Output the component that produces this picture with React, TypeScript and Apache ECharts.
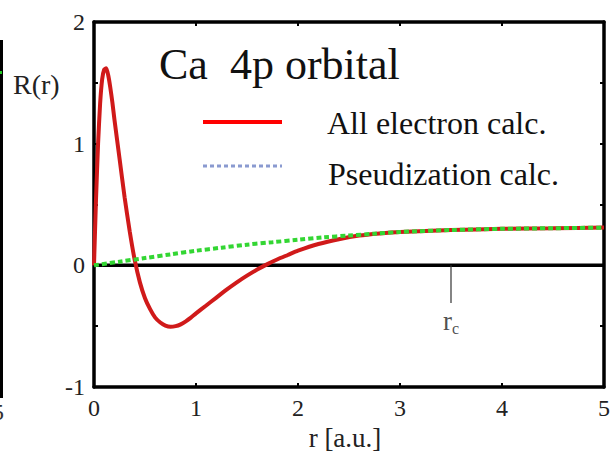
import React, { useEffect, useRef } from "react";
import * as echarts from "echarts";

const rAll = [0, 0.02, 0.04, 0.06, 0.08, 0.1, 0.12, 0.14, 0.16, 0.18, 0.2, 0.25, 0.3, 0.35, 0.4, 0.45, 0.5, 0.55, 0.6, 0.65, 0.7, 0.75, 0.8, 0.85, 0.9, 0.95, 1.0, 1.1, 1.2, 1.3, 1.4, 1.5, 1.6, 1.7, 1.8, 1.9, 2.0, 2.2, 2.4, 2.6, 2.8, 3.0, 3.5, 4.0, 4.5, 5.0];
const allElectron = [0, 0.55, 1.0, 1.33, 1.53, 1.61, 1.62, 1.56, 1.46, 1.34, 1.2, 0.88, 0.56, 0.28, 0.04, -0.14, -0.27, -0.36, -0.43, -0.47, -0.495, -0.505, -0.5, -0.485, -0.46, -0.43, -0.395, -0.33, -0.265, -0.2, -0.14, -0.085, -0.035, 0.01, 0.05, 0.085, 0.12, 0.175, 0.215, 0.245, 0.262, 0.274, 0.29, 0.3, 0.305, 0.31];
const rPs = [0, 0.25, 0.5, 0.75, 1.0, 1.25, 1.5, 1.75, 2.0, 2.25, 2.5, 2.75, 3.0, 3.5, 4.0, 4.5, 5.0];
const pseudo = [0, 0.03, 0.06, 0.09, 0.12, 0.145, 0.17, 0.19, 0.21, 0.23, 0.245, 0.26, 0.274, 0.29, 0.3, 0.305, 0.31];
const rc = 3.5;
const xTicks = [0, 1, 2, 3, 4, 5];
const yTicks = [-1, 0, 1, 2];

const FONT = "Liberation Serif";

const txt = (x: number, y: number, text: string, size: number, extra: Record<string, unknown> = {}) => ({
  type: "text",
  x,
  y,
  style: { text, fontFamily: FONT, fontSize: size, fill: "#111", textVerticalAlign: "middle", ...extra },
});

export default function App() {
  const ref = useRef<HTMLDivElement>(null);
  useEffect(() => {
    if (!ref.current) return;
    const chart = echarts.init(ref.current, null, { renderer: "svg" });
    const axisCommon = {
      axisLine: { show: true, onZero: false, lineStyle: { color: "#000", width: 3.5 } },
      axisTick: { show: true, inside: true, length: 4, lineStyle: { color: "#000", width: 2 } },
      splitLine: { show: false },
    };
    chart.setOption({
      animation: false,
      backgroundColor: "#fff",
      textStyle: { fontFamily: FONT },
      grid: { left: 94, right: 10, top: 22, bottom: 70 },
      xAxis: [
        {
          type: "value", min: xTicks[0], max: xTicks[xTicks.length - 1], interval: 1, position: "bottom",
          ...axisCommon,
          axisLabel: { fontSize: 24, color: "#222", fontFamily: FONT, margin: 9 },
        },
        {
          type: "value", min: xTicks[0], max: xTicks[xTicks.length - 1], interval: 1, position: "top",
          ...axisCommon,
          axisLabel: { show: false },
        },
      ],
      yAxis: [
        {
          type: "value", min: yTicks[0], max: yTicks[yTicks.length - 1], interval: 0.5, position: "left",
          ...axisCommon,
          axisLabel: {
            fontSize: 24, color: "#222", fontFamily: FONT, margin: 9,
            formatter: (v: number) => (yTicks.includes(v) ? String(v) : ""),
          },
        },
        {
          type: "value", min: yTicks[0], max: yTicks[yTicks.length - 1], interval: 0.5, position: "right",
          ...axisCommon,
          axisLabel: { show: false },
        },
      ],
      series: [
        {
          type: "line", name: "zero", data: [[xTicks[0], 0], [xTicks[xTicks.length - 1], 0]],
          showSymbol: false, silent: true, lineStyle: { color: "#000", width: 3.5 }, z: 1,
        },
        {
          type: "line", name: "rc", data: [[rc, 0], [rc, -0.31]],
          showSymbol: false, silent: true, lineStyle: { color: "#333", width: 1.2 }, z: 1,
        },
        {
          type: "scatter", name: "rcLabel", data: [[rc, -0.46]], symbolSize: 0, silent: true,
          label: {
            show: true, position: "inside", formatter: "{a|r}{b|c}",
            rich: {
              a: { fontSize: 27, fontFamily: FONT, color: "#222" },
              b: { fontSize: 16, fontFamily: FONT, color: "#222", padding: [14, 0, 0, 0] },
            },
          },
        },
        {
          type: "line", name: "All electron calc.", data: rAll.map((r, i) => [r, allElectron[i]]),
          showSymbol: false, smooth: 0.2, lineStyle: { color: "#d01a1a", width: 4 }, z: 2,
        },
        {
          type: "line", name: "Pseudization calc.", data: rPs.map((r, i) => [r, pseudo[i]]),
          showSymbol: false, smooth: 0.3, lineStyle: { color: "#33d633", width: 4, type: [5, 3] }, z: 3,
        },
      ],
      graphic: [
        { type: "rect", shape: { x: 0, y: 40, width: 3, height: 358 }, style: { fill: "#000" } },
        { type: "rect", shape: { x: 0, y: 71, width: 2, height: 3 }, style: { fill: "#2c2" } },
        txt(-8, 412, "5", 24, { fill: "#333" }),
        txt(13, 84, "R(r)", 28, { fill: "#222" }),
        txt(345, 438, "r [a.u.]", 27, { fill: "#222", textAlign: "center" }),
        txt(159, 64, "Ca  4p orbital", 44),
        { type: "line", shape: { x1: 203, y1: 122, x2: 282, y2: 122 }, style: { stroke: "#ff0000", lineWidth: 4 } },
        txt(327, 123, "All electron calc.", 32),
        { type: "line", shape: { x1: 203, y1: 166, x2: 282, y2: 166 }, style: { stroke: "#8a9ad0", lineWidth: 3, lineDash: [4, 3] } },
        txt(328, 174, "Pseudization calc.", 32),
      ],
    });
    return () => chart.dispose();
  }, []);
  return <div ref={ref} style={{ width: 614, height: 457, position: "absolute", left: 0, top: 0 }} />;
}
